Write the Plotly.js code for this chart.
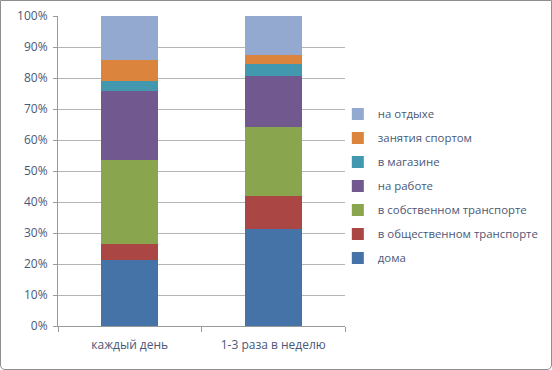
<!DOCTYPE html>
<html><head><meta charset="utf-8">
<script src="https://cdn.plot.ly/plotly-3.0.1.min.js"></script>
<style>
html,body{margin:0;padding:0;background:#fff;}
#wrap{position:relative;width:552px;height:370px;}
#chart{width:552px;height:370px;}
#frame{position:absolute;left:0;top:0;width:550px;height:368px;border:1px solid #8e8e8e;border-radius:0 0 5px 5px;pointer-events:none;}
</style></head>
<body>
<div id="wrap"><div id="chart"></div><div id="frame"></div></div>
<script>
const categories = ["каждый день", "1-3 раза в неделю"];
const seriesNames = ["дома", "в общественном транспорте", "в собственном транспорте", "на работе", "в магазине", "занятия спортом", "на отдыхе"];
const doma = [21.2, 31.3];
const obshTransport = [5.3, 10.5];
const sobstvTransport = [27.0, 22.4];
const naRabote = [22.3, 16.6];
const vMagazine = [3.2, 3.7];
const sport = [6.7, 2.9];
const otdyh = [14.3, 12.6];
const seriesValues = [doma, obshTransport, sobstvTransport, naRabote, vMagazine, sport, otdyh];
const colors = ["#4572A7", "#AA4643", "#89A54E", "#71588F", "#4198AF", "#DB843D", "#93A9CF"];

const traces = seriesNames.map((n, i) => ({
  type: "bar", name: n, x: categories, y: seriesValues[i],
  marker: {color: colors[i], line: {width: 0}},
  width: 0.4, legendgroup: "g" + i, legendrank: 100 - i, hoverinfo: "name+y"
}));

const textColor = "#4a5877";
const layout = {
  width: 552, height: 370,
  margin: {l: 58, r: 207, t: 16, b: 44, autoexpand: false},
  barmode: "stack", barnorm: "percent",
  paper_bgcolor: "#fff", plot_bgcolor: "#fff",
  font: {family: "Open Sans, sans-serif", size: 12, color: textColor},
  xaxis: {
    showgrid: false, showline: true, linecolor: "#9a9a9a", linewidth: 1,
    ticks: "outside", tickson: "boundaries", ticklen: 5, tickcolor: "#9a9a9a",
    ticklabelstandoff: 8, automargin: false,
    tickfont: {size: 12, color: textColor}
  },
  yaxis: {
    range: [0, 100], dtick: 10, ticksuffix: "%",
    showgrid: true, gridcolor: "#b4b4b4", gridwidth: 1,
    showline: true, linecolor: "#9a9a9a", linewidth: 1,
    ticks: "outside", ticklen: 4, tickcolor: "#9a9a9a",
    ticklabelstandoff: 3, automargin: false,
    zeroline: false, tickfont: {size: 12, color: textColor}
  },
  legend: {
    xref: "container", yref: "container",
    x: 0.612, y: 0.731, xanchor: "left", yanchor: "top",
    traceorder: "grouped", tracegroupgap: 5,
    font: {size: 11.4, color: textColor}, itemwidth: 30,
    bgcolor: "rgba(0,0,0,0)"
  },
  showlegend: true
};
Plotly.newPlot("chart", traces, layout, {displayModeBar: false, staticPlot: true});
</script>
</body></html>
